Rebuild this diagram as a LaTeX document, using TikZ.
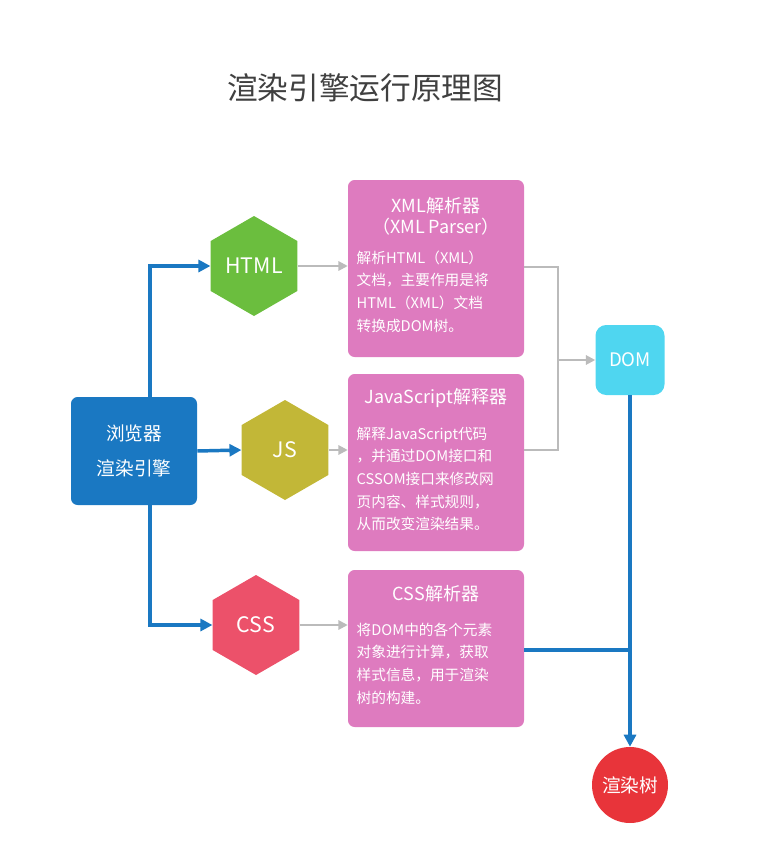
\documentclass[tikz,border=0pt]{standalone}
\usepackage{fontspec}
\setmainfont{Noto Sans CJK SC}
\usetikzlibrary{arrows.meta,shapes.geometric}
\definecolor{bblue}{HTML}{1A78C2}
\definecolor{pinkb}{HTML}{DE7BBF}
\definecolor{hgreen}{HTML}{6BBE3E}
\definecolor{jsol}{HTML}{C2B737}
\definecolor{cssr}{HTML}{EC516A}
\definecolor{domc}{HTML}{4FD6F0}
\definecolor{treer}{HTML}{E8343A}
\definecolor{grayl}{HTML}{BBBBBB}
\tikzset{
 hexa/.style={regular polygon,regular polygon sides=6,shape border rotate=30,minimum size=100*0.75pt,inner sep=0pt,text=white,font=\fontsize{16}{18}\selectfont},
 pbox/.style={fill=pinkb,rounded corners=5pt,draw=none},
 ptitle/.style={text=white,font=\fontsize{13.5}{16}\selectfont,align=center},
 ptext/.style={text=white,font=\fontsize{11}{17}\selectfont,align=left,anchor=north west},
 blu/.style={draw=bblue,line width=2.6pt,-{Triangle[length=9pt,width=9pt]}},
 gry/.style={draw=grayl,line width=1.5pt},
 garr/.style={gry,-{Triangle[length=7pt,width=7pt]}}
}
\begin{document}
\begin{tikzpicture}[x=0.75pt,y=-0.75pt]
\useasboundingbox (0,0) rectangle (760,860);
\node[text=black!75,font=\fontsize{23}{26}\selectfont] (title) at (365,88) {渲染引擎运行原理图};
\node[fill=bblue,rounded corners=5pt,minimum width=126*0.75pt,minimum height=108*0.75pt,text=white,align=center,font=\fontsize{14}{26}\selectfont] (br) at (134,451) {浏览器\\渲染引擎};
\node[hexa,fill=hgreen] (html) at (254,266) {HTML};
\node[hexa,fill=jsol] (js) at (285,450) {JS};
\node[hexa,fill=cssr] (css) at (256,625) {CSS};
\node[pbox,minimum width=176*0.75pt,minimum height=177*0.75pt] (b1) at (436,268.5) {};
\node[pbox,minimum width=176*0.75pt,minimum height=177*0.75pt] (b2) at (436,462.5) {};
\node[pbox,minimum width=176*0.75pt,minimum height=157*0.75pt] (b3) at (436,648.5) {};
\node[ptitle] (t1) at (436,216) {XML解析器\\（XML Parser）};
\node[ptext] (x1) at (352,246) {解析HTML（XML）\\文档，主要作用是将\\HTML（XML）文档\\转换成DOM树。};
\node[ptitle] (t2) at (436,398) {JavaScript解释器};
\node[ptext] (x2) at (352,422) {解释JavaScript代码\\，并通过DOM接口和\\CSSOM接口来修改网\\页内容、样式规则，\\从而改变渲染结果。};
\node[ptitle] (t3) at (436,594) {CSS解析器};
\node[ptext] (x3) at (352,618) {将DOM中的各个元素\\对象进行计算，获取\\样式信息，用于渲染\\树的构建。};
\node[fill=domc,rounded corners=8pt,minimum width=69*0.75pt,minimum height=70*0.75pt,text=white,font=\fontsize{14}{16}\selectfont] (dom) at (630,360) {DOM};
\node[circle,fill=treer,minimum size=76*0.75pt,inner sep=0pt,text=white,font=\fontsize{14}{16}\selectfont] (tree) at (630,785) {渲染树};
\coordinate (m1) at (558,267);
\coordinate (m2) at (558,450);
\coordinate (m) at (558,360);
\coordinate (j3) at (630,650);
\draw[blu] (br.north -| 150,0) |- (html.west);
\draw[blu] (br.east) -- (js.west);
\draw[blu] (br.south -| 150,0) |- (css.west);
\draw[garr] (html.east) -- (b1.west |- html.east);
\draw[garr] (js.east) -- (b2.west |- js.east);
\draw[garr] (css.east) -- (b3.west |- css.east);
\draw[gry] (b1.east |- m1) -- (m1) -- (m2) -- (b2.east |- m2);
\draw[garr] (m) -- (dom.west);
\draw[blu] (dom.south) -- (tree.north);
\draw[draw=bblue,line width=2.6pt] (b3.east |- j3) -- (j3);
\end{tikzpicture}
\end{document}
